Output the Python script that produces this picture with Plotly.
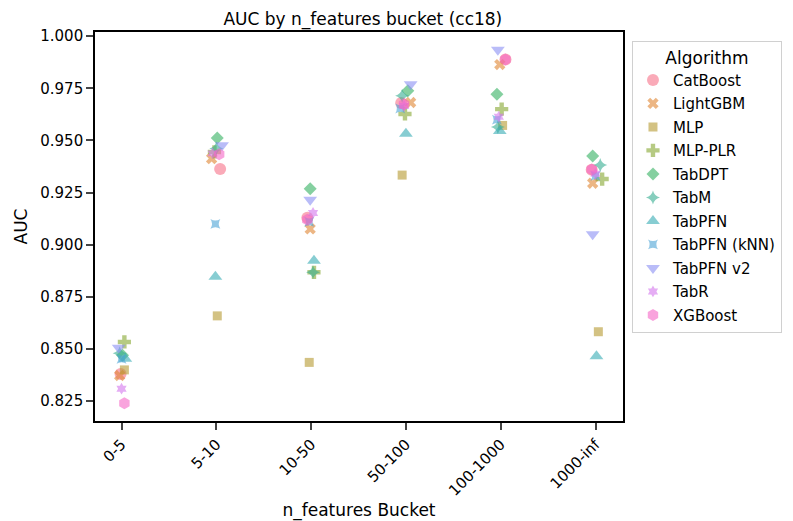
import plotly.graph_objects as go

buckets = ["0-5", "5-10", "10-50", "50-100", "100-1000", "1000-inf"]
algorithms = ["CatBoost", "LightGBM", "MLP", "MLP-PLR", "TabDPT", "TabM",
              "TabPFN", "TabPFN (kNN)", "TabPFN v2", "TabR", "XGBoost"]

auc_catboost = [0.8380, 0.9363, 0.9129, 0.9680, 0.9888, 0.9360]
auc_lightgbm = [0.8373, 0.9413, 0.9076, 0.9682, 0.9864, 0.9295]
auc_mlp = [0.8400, 0.8659, 0.8436, 0.9334, 0.9572, 0.8583]
auc_mlp_plr = [0.8534, 0.9445, 0.8868, 0.9627, 0.9650, 0.9315]
auc_tabdpt = [0.8470, 0.9512, 0.9268, 0.9738, 0.9722, 0.9425]
auc_tabm = [0.8480, 0.9462, 0.8868, 0.9714, 0.9565, 0.9382]
auc_tabpfn = [0.8453, 0.8847, 0.8923, 0.9532, 0.9545, 0.8465]
auc_tabpfn_knn = [0.8453, 0.9100, 0.9110, 0.9653, 0.9600, 0.9330]
auc_tabpfn_v2 = [0.8506, 0.9477, 0.9216, 0.9769, 0.9935, 0.9050]
auc_tabr = [0.8310, 0.9438, 0.9152, 0.9665, 0.9614, 0.9340]
auc_xgboost = [0.8240, 0.9434, 0.9120, 0.9674, 0.9888, 0.9361]

# horizontal jitter (in category units) as seen in the picture
jit_catboost = [-0.01, 0.04, -0.04, -0.05, 0.05, -0.04]
jit_lightgbm = [-0.02, -0.05, -0.01, 0.05, -0.01, -0.03]
jit_mlp = [0.03, 0.01, -0.02, -0.04, 0.02, 0.03]
jit_mlp_plr = [0.03, -0.02, 0.03, -0.01, 0.01, 0.07]
jit_tabdpt = [0.01, 0.01, -0.01, 0.02, -0.04, -0.03]
jit_tabm = [-0.02, 0.00, 0.02, -0.04, -0.03, 0.05]
jit_tabpfn = [0.04, -0.01, 0.03, 0.00, -0.01, 0.01]
jit_tabpfn_knn = [0.00, -0.01, -0.02, -0.06, -0.04, 0.00]
jit_tabpfn_v2 = [-0.03, 0.06, -0.01, 0.05, -0.03, -0.03]
jit_tabr = [0.00, -0.04, 0.02, -0.02, -0.02, 0.00]
jit_xgboost = [0.03, 0.03, -0.04, -0.02, 0.05, -0.04]

values = [auc_catboost, auc_lightgbm, auc_mlp, auc_mlp_plr, auc_tabdpt, auc_tabm,
          auc_tabpfn, auc_tabpfn_knn, auc_tabpfn_v2, auc_tabr, auc_xgboost]
jitters = [jit_catboost, jit_lightgbm, jit_mlp, jit_mlp_plr, jit_tabdpt, jit_tabm,
           jit_tabpfn, jit_tabpfn_knn, jit_tabpfn_v2, jit_tabr, jit_xgboost]

colors = ["#f77189", "#df8632", "#b59a31", "#86a731", "#33b061", "#35ae91",
          "#37abb4", "#4ba4d6", "#8a8ff4", "#d476ec", "#f566c6"]
symbols = ["circle", "x", "square", "cross", "diamond", "star-diamond",
           "triangle-up", "star-square", "triangle-down", "hexagram", "hexagon"]
sizes = [12, 10, 9, 11, 10, 10, 12, 9, 12, 9, 12]

fig = go.Figure()
for i, alg in enumerate(algorithms):
    xs = [b + j for b, j in zip(range(len(buckets)), jitters[i])]
    fig.add_trace(go.Scatter(
        x=xs, y=values[i], mode="markers", name=alg, legendgroup=alg,
        marker=dict(color=colors[i], symbol=symbols[i], size=sizes[i],
                    opacity=0.6, line=dict(width=0)),
    ))

font = "DejaVu Sans, Liberation Sans, sans-serif"
fig.update_layout(
    width=793, height=521,
    margin=dict(l=83, r=178, t=24, b=104),
    paper_bgcolor="white", plot_bgcolor="white",
    font=dict(family=font, size=15, color="black"),
    title=dict(text="AUC by n_features bucket (cc18)", x=0.4475, xanchor="center",
               y=0.979, yanchor="middle", font=dict(size=17)),
    legend=dict(
        title=dict(text="Algorithm", side="top center", font=dict(size=17)),
        x=1.017, xanchor="left", y=0.978, yanchor="top",
        bordercolor="#d0d0d0", borderwidth=1, bgcolor="white",
        font=dict(size=15), tracegroupgap=1,
    ),
    showlegend=True,
)
fig.update_xaxes(
    range=[-0.28, 5.29], tickmode="array", tickvals=list(range(len(buckets))),
    ticktext=buckets, tickangle=-45, ticks="outside", ticklen=7, tickwidth=1.5,
    showline=True, linecolor="black", linewidth=1.6, mirror=True,
    showgrid=False, zeroline=False,
    title=dict(text="n_features Bucket", font=dict(size=17), standoff=6),
    tickfont=dict(size=15),
)
fig.update_yaxes(
    range=[0.8155, 1.002], tickmode="array",
    tickvals=[0.825, 0.85, 0.875, 0.9, 0.925, 0.95, 0.975, 1.0],
    tickformat=".3f", ticks="outside", ticklen=7, tickwidth=1.5,
    showline=True, linecolor="black", linewidth=1.6, mirror=True,
    showgrid=False, zeroline=False,
    title=dict(text="AUC", font=dict(size=17), standoff=8),
    tickfont=dict(size=15),
)
fig.write_html("out.html")
